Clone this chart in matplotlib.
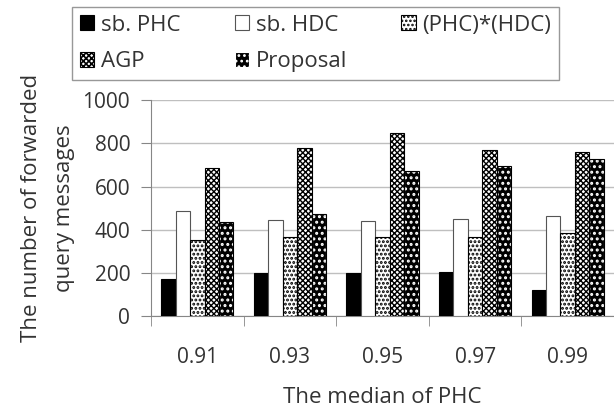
import matplotlib.pyplot as plt
import numpy as np

plt.rcParams['font.family'] = ['Open Sans', 'DejaVu Sans']
plt.rcParams['hatch.linewidth'] = 1.2

categories = ['0.91', '0.93', '0.95', '0.97', '0.99']
series_names = ['sb. PHC', 'sb. HDC', '(PHC)*(HDC)', 'AGP', 'Proposal']
sb_phc = [172, 198, 200, 204, 120]
sb_hdc = [485, 443, 440, 448, 463]
phc_hdc = [355, 365, 366, 366, 385]
agp = [686, 777, 849, 769, 760]
proposal = [435, 474, 671, 697, 725]

text_color = '#333333'
fig = plt.figure(figsize=(6.14, 4.08), dpi=100)
ax = fig.add_axes([151 / 614, 1 - 316.3 / 408, 1 - 151 / 614, 216.3 / 408])

x = np.arange(len(categories))
w = 0.156
styles = [
    dict(color='black', edgecolor='black'),
    dict(color='white', edgecolor='#555555'),
    dict(color='white', edgecolor='black', hatch='....'),
    dict(color='white', edgecolor='black', hatch='xxxxxx'),
    dict(color='black', edgecolor='white', hatch='...'),
]
hatch_lw = [1.2, 1.2, 1.4, 1.0, 1.4]
values = [sb_phc, sb_hdc, phc_hdc, agp, proposal]
handles = []
for i, (vals, st) in enumerate(zip(values, styles)):
    with plt.rc_context({'hatch.linewidth': hatch_lw[i]}):
        b = ax.bar(x + (i - 2) * w, vals, w, linewidth=0.8, zorder=3,
                   label=series_names[i], **st)
    handles.append(b)
    if i == 4:
        ax.bar(x + (i - 2) * w, vals, w, fill=False, edgecolor='black',
               linewidth=0.8, zorder=4)

ax.set_xlim(-0.5, 4.4)
ax.set_ylim(0, 1000)
ax.set_yticks(range(0, 1001, 200))
ax.set_xticks(x)
ax.set_xticklabels(categories)
ax.set_xticks(np.arange(-0.5, 4.6, 1), minor=True)
ax.tick_params(axis='x', which='major', length=0, pad=22, labelsize=15,
               labelcolor=text_color)
ax.tick_params(axis='x', which='minor', length=7, color='#868686', direction='out')
ax.tick_params(axis='y', length=7, color='#868686', pad=8, labelsize=15,
               labelcolor=text_color)
ax.grid(axis='y', color='#bfbfbf', linewidth=1, zorder=0)
ax.set_axisbelow(True)
for s in ['top', 'right']:
    ax.spines[s].set_visible(False)
for s in ['left', 'bottom']:
    ax.spines[s].set_color('#868686')

ax.set_xlabel('The median of PHC', fontsize=16, color=text_color, labelpad=14)
ax.set_ylabel('The number of forwarded\nquery messages', fontsize=16,
              color=text_color, linespacing=1.75)
ax.yaxis.set_label_coords(-0.165, 0.5)

# legend fills row by row, like the original
order = [0, 3, 1, 4, 2]
leg = fig.legend(handles=[handles[k] for k in order],
                 labels=[series_names[k] for k in order], ncol=3, loc='lower left',
                 bbox_to_anchor=(72 / 614, 1 - 80 / 408, 487 / 614, 72 / 408),
                 mode='expand', fontsize=16, frameon=True, fancybox=False,
                 edgecolor='#7f7f7f', handlelength=0.65, handleheight=0.65,
                 handletextpad=0.3, borderpad=0.35, labelspacing=0.7,
                 borderaxespad=0)
for t in leg.get_texts():
    t.set_color(text_color)
leg.get_frame().set_linewidth(1)

fig.savefig('out.png', dpi=100)
